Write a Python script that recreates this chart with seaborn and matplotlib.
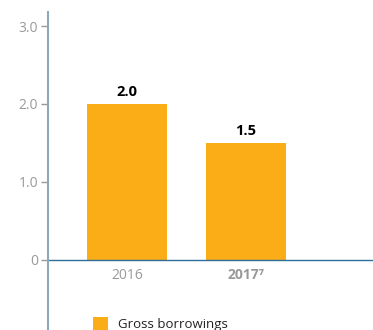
import pandas as pd
import numpy as np
import matplotlib.pyplot as plt
import seaborn as sns

# data
years = ["2016", "2017"]
gross_borrowings = [2.0, 1.5]
value_labels = ["2.0", "1.5"]
y_ticks = [0, 1, 2, 3]
y_tick_labels = ["0", "1.0", "2.0", "3.0"]

sns.set_style("white")
plt.rcParams["font.family"] = ["Open Sans", "DejaVu Sans"]

df = pd.DataFrame({"Year": years, "Gross borrowings": gross_borrowings})

fig = plt.figure(figsize=(3.73, 3.30), dpi=100)
ax = fig.add_axes([48 / 373, 0, 1 - 48 / 373, 318 / 330])

bar_color = "#FBAD18"
sns.barplot(data=df, x="Year", y="Gross borrowings", color=bar_color,
            width=0.67, saturation=1, ax=ax, label="Gross borrowings",
            linewidth=0)

ax.set_xlim(-0.664, 2.067)
ax.set_ylim(-0.9, 3.18)

# value labels
for i, (v, lab) in enumerate(zip(gross_borrowings, value_labels)):
    ax.text(i, v + 0.06, lab, ha="center", va="bottom",
            fontsize=10.5, fontweight="bold", color="black")

# zero line
ax.axhline(0, color="#2E6E9A", lw=1.0)

# spines
for s in ["top", "right", "bottom"]:
    ax.spines[s].set_visible(False)
ax.spines["left"].set_color("#8AAABB")
ax.spines["left"].set_linewidth(1.5)

ax.set_yticks(y_ticks)
ax.set_yticklabels(y_tick_labels)
ax.tick_params(axis="y", left=True, length=5, width=1, color="#999999",
               labelcolor="#999999", labelsize=10, pad=2)

# x tick labels placed just below the zero line
ax.set_xticks([])
ax.set_xlabel("")
ax.set_ylabel("")
ax.text(0, -0.1, years[0], ha="center", va="top", fontsize=10, color="#999999")
ax.text(1, -0.1, years[1] + "\u2077", ha="center", va="top", fontsize=10,
        color="#999999", fontweight="bold")

# legend
leg = ax.legend(loc="lower left", bbox_to_anchor=(0.105, -0.035), frameon=False,
                fontsize=9.5, handlelength=1.15, handleheight=1.15,
                handletextpad=0.8, borderpad=0.3)
for t in leg.get_texts():
    t.set_color("#222222")

fig.savefig("out.png", dpi=100)
